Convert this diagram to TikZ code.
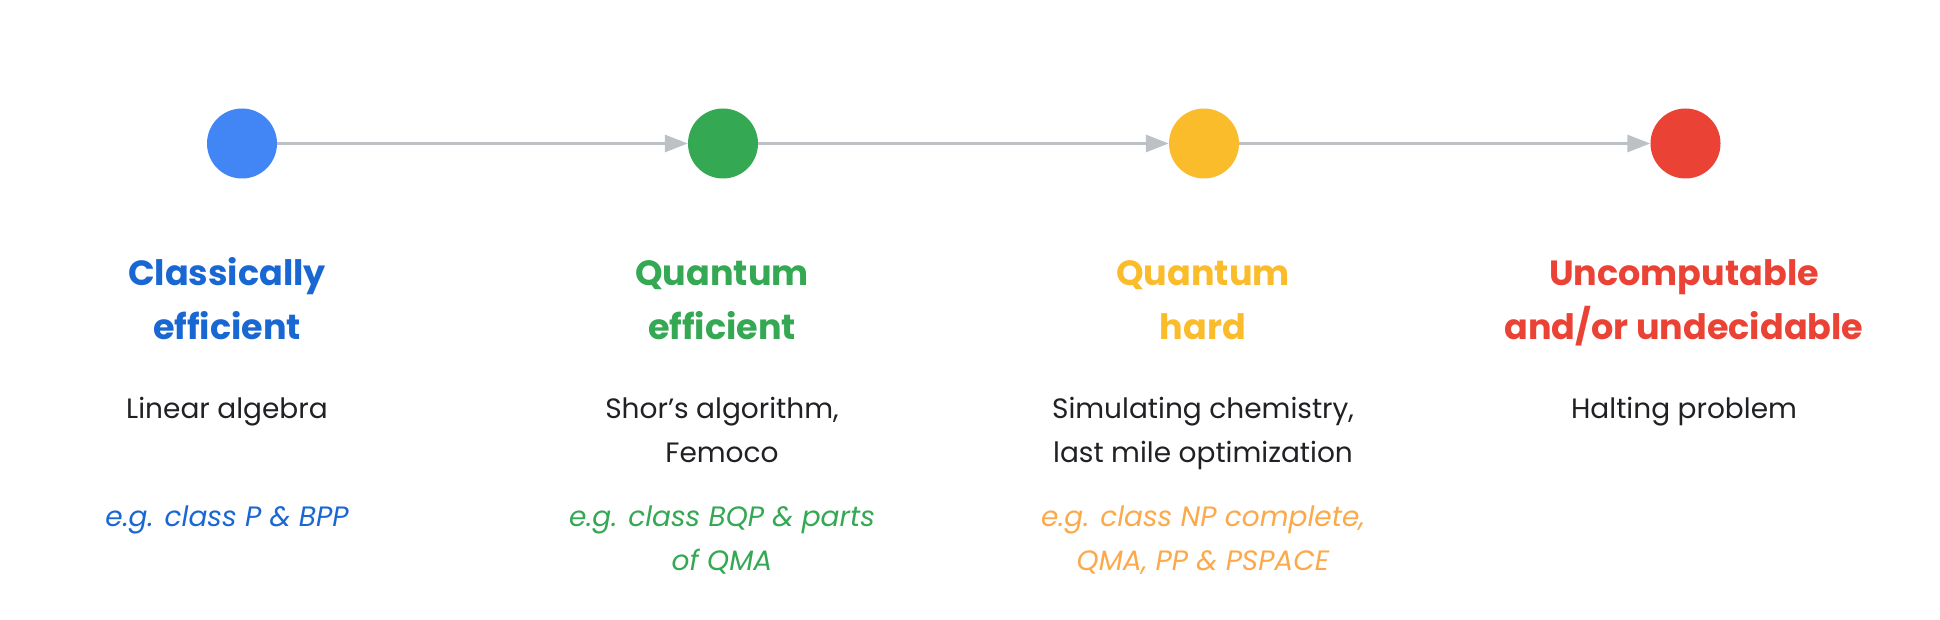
\documentclass[tikz,border=0pt]{standalone}
\usepackage{fontspec}
\setmainfont{Poppins}
\usetikzlibrary{arrows.meta}
\definecolor{gblue}{HTML}{4285F4}
\definecolor{gbluet}{HTML}{1967D2}
\definecolor{ggreen}{HTML}{34A853}
\definecolor{gyellow}{HTML}{FBBC2C}
\definecolor{gorange}{HTML}{FBA94A}
\definecolor{gred}{HTML}{EA4335}
\definecolor{ggray}{HTML}{BDC1C6}
\definecolor{gtext}{HTML}{202124}
\begin{document}
\begin{tikzpicture}[x=1pt,y=-1pt,
 dot/.style={circle,minimum size=70pt,inner sep=0pt},
 arr/.style={draw=ggray,line width=3pt,-{Triangle[length=23pt,width=17pt]}},
 head/.style={anchor=base,inner sep=0pt,font=\fontsize{35}{40}\selectfont\bfseries},
 body/.style={anchor=base,inner sep=0pt,text=gtext,font=\fontsize{28}{32}\selectfont},
 ex/.style={anchor=base,inner sep=0pt,font=\fontsize{28}{32}\selectfont\itshape}]
\fill[white] (0,0) rectangle (1940,620);
\useasboundingbox (0,0) rectangle (1940,620);
\node[dot,fill=gblue] (c1) at (242,143.5) {};
\node[dot,fill=ggreen] (c2) at (723,143.5) {};
\node[dot,fill=gyellow] (c3) at (1204,143.5) {};
\node[dot,fill=gred] (c4) at (1685.5,143.5) {};
\draw[arr] (c1) -- (c2);
\draw[arr] (c2) -- (c3);
\draw[arr] (c3) -- (c4);
% column 1
\node[head,text=gbluet] (h1a) at (227,285) {Classically};
\node[head,text=gbluet] (h1b) at (227,339) {efficient};
\node[body] (b1a) at (227,418) {Linear algebra};
\node[ex,text=gbluet] (e1a) at (227,526) {e.g. class P \& BPP};
% column 2
\node[head,text=ggreen] (h2a) at (722,285) {Quantum};
\node[head,text=ggreen] (h2b) at (722,339) {efficient};
\node[body] (b2a) at (722,418) {Shor’s algorithm,};
\node[body] (b2b) at (722,462) {Femoco};
\node[ex,text=ggreen] (e2a) at (722,526) {e.g. class BQP \& parts};
\node[ex,text=ggreen] (e2b) at (722,570) {of QMA};
% column 3
\node[head,text=gyellow] (h3a) at (1203,285) {Quantum};
\node[head,text=gyellow] (h3b) at (1203,339) {hard};
\node[body] (b3a) at (1203,418) {Simulating chemistry,};
\node[body] (b3b) at (1203,462) {last mile optimization};
\node[ex,text=gorange] (e3a) at (1203,526) {e.g. class NP complete,};
\node[ex,text=gorange] (e3b) at (1203,570) {QMA, PP \& PSPACE};
% column 4
\node[head,text=gred] (h4a) at (1684,285) {Uncomputable};
\node[head,text=gred] (h4b) at (1684,339) {and/or undecidable};
\node[body] (b4a) at (1684,418) {Halting problem};
\end{tikzpicture}
\end{document}
